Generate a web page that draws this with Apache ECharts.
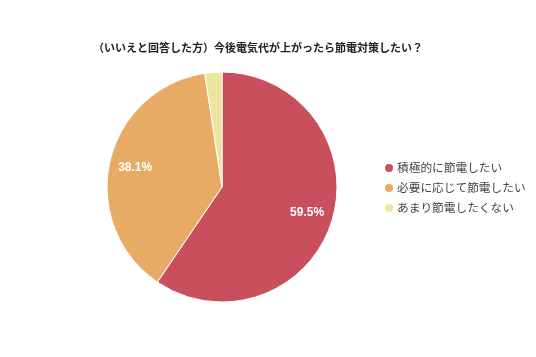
<!DOCTYPE html>
<html><head><meta charset="utf-8">
<script src="https://cdn.jsdelivr.net/npm/echarts@6/dist/echarts.min.js"></script>
<style>html,body{margin:0;padding:0;background:#fff}#c{width:536px;height:357px}</style>
</head><body><div id="c"></div>
<script>
const titleText = '（いいえと回答した方）今後電気代が上がったら節電対策したい？';
const categories = ['積極的に節電したい', '必要に応じて節電したい', 'あまり節電したくない'];
const values = [59.5, 38.1, 2.4];
const colors = ['#c94f5d', '#e8ab66', '#ede59e'];
const data = categories.map((n, i) => ({ name: n, value: values[i], itemStyle: { color: colors[i] } }));
const chart = echarts.init(document.getElementById('c'));
const font = '"Noto Sans CJK JP", sans-serif';
chart.setOption({
  animation: false,
  title: { text: titleText, left: 88, top: 37, textStyle: { fontSize: 11, fontWeight: 'bold', color: '#222', fontFamily: font } },
  legend: {
    orient: 'vertical', left: 378, top: 157, icon: 'circle', itemWidth: 10, itemHeight: 10, itemGap: 8,
    textStyle: { fontSize: 11.7, color: '#444', fontFamily: font, padding: [0, 0, 0, -2] },
    data: categories
  },
  series: [
    {
      type: 'pie', center: [222, 187], radius: 115, startAngle: 90, clockwise: true,
      itemStyle: { borderColor: '#fff', borderWidth: 1 },
      label: { show: false }, labelLine: { show: false },
      data: data
    },
    {
      type: 'pie', center: [222, 187], radius: [57, 115], startAngle: 90, clockwise: true, silent: true,
      itemStyle: { color: 'transparent', borderWidth: 0 },
      label: { show: true, position: 'inside', color: '#fff', fontSize: 12, fontWeight: 'bold', fontFamily: 'Arial, "Liberation Sans", sans-serif',
        formatter: p => p.value >= 5 ? p.value.toFixed(1) + '%' : '' },
      labelLine: { show: false },
      emphasis: { disabled: true },
      data: categories.map((n, i) => ({ name: n, value: values[i] }))
    }
  ]
});
</script></body></html>
